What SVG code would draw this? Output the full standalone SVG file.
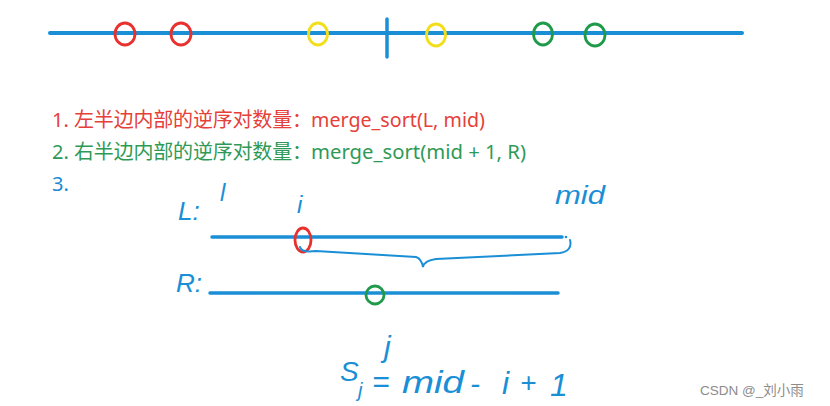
<svg xmlns="http://www.w3.org/2000/svg" width="830" height="406" viewBox="0 0 830 406">
<style>
.bl{stroke:#1a8fd6;fill:none;stroke-linecap:round}
.ring{fill:none;stroke-width:2.8}
.red{stroke:#e8302e}
.yel{stroke:#f2de1a}
.grn{stroke:#1f9a4a}
.t{font-family:"Noto Sans","Noto Sans CJK SC",sans-serif;font-size:20px}
.cjk{font-family:"Noto Sans CJK SC",sans-serif}
.hw{font-family:"Liberation Sans",sans-serif;font-style:italic;fill:#1a8fd6}
</style>
<rect width="830" height="406" fill="#ffffff"/>
<g id="number-line">
<line class="bl" x1="50" y1="33" x2="742" y2="33" stroke-width="4"/>
<line class="bl" x1="387" y1="19" x2="387" y2="57" stroke-width="3.5"/>
</g>
<g id="circles-top">
<ellipse class="ring red" cx="125" cy="34" rx="10" ry="11"/>
<ellipse class="ring red" cx="181" cy="34" rx="10" ry="11"/>
<ellipse class="ring yel" cx="318" cy="34" rx="9.5" ry="11"/>
<ellipse class="ring yel" cx="436" cy="35" rx="9.5" ry="11"/>
<ellipse class="ring grn" cx="543" cy="34" rx="9.5" ry="11"/>
<ellipse class="ring grn" cx="595" cy="35" rx="10" ry="11"/>
</g>
<g id="line1" class="t" fill="#e5403a">
<text x="52" y="127">1.</text>
<text x="74" y="127" class="cjk" textLength="238" lengthAdjust="spacing">左半边内部的逆序对数量：</text>
<text x="311" y="127" textLength="174" lengthAdjust="spacingAndGlyphs">merge_sort(L, mid)</text>
</g>
<g id="line2" class="t" fill="#2f9a57">
<text x="52" y="159">2.</text>
<text x="74" y="159" class="cjk" textLength="238" lengthAdjust="spacing">右半边内部的逆序对数量：</text>
<text x="311" y="159" textLength="215" lengthAdjust="spacingAndGlyphs">merge_sort(mid + 1, R)</text>
</g>
<g id="line3" class="t" fill="#1a8ad4">
<text x="52" y="191">3.</text>
</g>
<g id="L-array">
<text class="hw" x="178" y="220" font-size="26">L:</text>
<text class="hw" x="220" y="201" font-size="24">l</text>
<text class="hw" x="297" y="213" font-size="24">i</text>
<text class="hw" x="555" y="204" font-size="26" textLength="50" lengthAdjust="spacingAndGlyphs">mid</text>
<line class="bl" x1="212" y1="237" x2="562" y2="237" stroke-width="3.5"/>
<circle cx="566" cy="237" r="1.3" fill="#1a8fd6"/>
<ellipse class="ring red" cx="303" cy="240" rx="8" ry="12" stroke-width="2.5"/>
<path class="bl" d="M300 247 C301 252 308 252 316 251 L416 257 C420 258 422 262 423 267 C424 262 428 260 436 259 L560 253 C568 252 572 247 570 240" stroke-width="2"/>
</g>
<g id="R-array">
<text class="hw" x="176" y="292" font-size="26">R:</text>
<line class="bl" x1="210" y1="293" x2="558" y2="293" stroke-width="3.5"/>
<circle class="ring grn" cx="375" cy="295" r="9" stroke-width="2.5"/>
<text class="hw" x="384" y="357" font-size="30">j</text>
</g>
<g id="formula">
<text class="hw" x="340" y="381" font-size="28">S</text>
<text class="hw" x="358" y="397" font-size="20">j</text>
<text class="hw" x="372" y="392" font-size="30">=</text>
<text class="hw" x="402" y="393" font-size="32" textLength="62" lengthAdjust="spacingAndGlyphs">mid</text>
<text class="hw" x="470" y="394" font-size="30">-</text>
<text class="hw" x="502" y="394" font-size="32">i</text>
<text class="hw" x="520" y="392" font-size="28">+</text>
<text class="hw" x="550" y="396" font-size="32">1</text>
</g>
<g id="watermark">
<text x="700" y="395" font-family="'Liberation Sans','Noto Sans CJK SC',sans-serif" font-size="13.5" fill="#8c8c8c">CSDN @_刘小雨</text>
</g>
</svg>
